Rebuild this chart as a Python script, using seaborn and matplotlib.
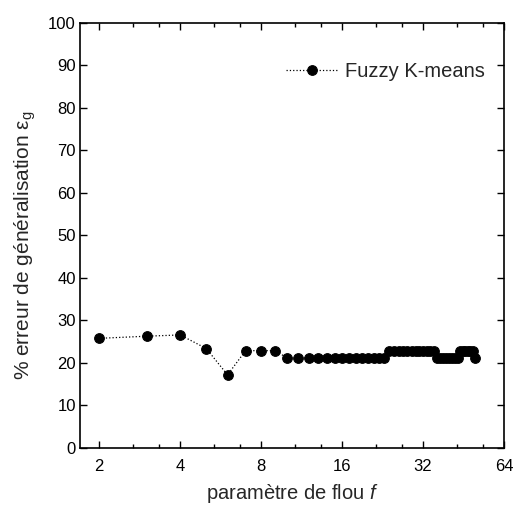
import numpy as np
import pandas as pd
import matplotlib
matplotlib.use('Agg')
import matplotlib.pyplot as plt
from matplotlib.ticker import FixedLocator, NullFormatter
import seaborn as sns

# fuzziness parameter f (integers 2..50) and generalisation error (%)
f_values = list(range(2, 51))
error_values = ([25.8, 26.3, 26.6, 23.4, 17.2, 22.9, 22.9, 22.9]   # f = 2..9
                + [21.2] * 14                                        # f = 10..23
                + [22.9] * 12                                        # f = 24..35
                + [21.2] * 8                                         # f = 36..43
                + [22.9] * 6                                         # f = 44..49
                + [21.2])                                            # f = 50
x_ticks = [2, 4, 8, 16, 32, 64]
y_ticks = list(range(0, 101, 10))

df = pd.DataFrame({'f': f_values, 'err': error_values})

sns.set_style('ticks')
plt.rcParams['font.family'] = ['Liberation Sans', 'DejaVu Sans']
plt.rcParams['mathtext.fontset'] = 'custom'
plt.rcParams['mathtext.rm'] = 'Liberation Sans'
plt.rcParams['mathtext.it'] = 'Liberation Sans:italic'

fig = plt.figure(figsize=(5.14, 5.05), dpi=100)
ax = fig.add_axes([0.1556, 0.1129, 0.825, 0.8416])

sns.lineplot(data=df, x='f', y='err', ax=ax, color='black', linestyle=':',
             linewidth=0.9, marker='o', markersize=7, markeredgecolor='black',
             label='Fuzzy K-means')

ax.set_xscale('log', base=2)
ax.set_xlim(1.696, 64)
ax.set_ylim(0, 100)
ax.xaxis.set_major_locator(FixedLocator(x_ticks))
ax.set_xticklabels([str(t) for t in x_ticks])
minor = [2 ** k * m for k in range(0, 7) for m in (4 / 3, 5 / 3)]
ax.xaxis.set_minor_locator(FixedLocator(minor))
ax.xaxis.set_minor_formatter(NullFormatter())
ax.set_yticks(y_ticks)

ax.tick_params(which='both', direction='in', top=True, right=True,
               labelsize=12, colors='black', width=1)
ax.tick_params(which='major', length=5)
ax.tick_params(axis='x', which='major', pad=8)
ax.tick_params(axis='y', which='major', pad=3)
ax.tick_params(which='minor', length=3)
for s in ax.spines.values():
    s.set_linewidth(1.2)
    s.set_color('black')

ax.set_xlabel('paramètre de flou $\\mathit{f}$', fontsize=14.5, labelpad=6)
ax.set_ylabel('% erreur de généralisation $\\mathrm{\\epsilon_g}$', fontsize=15, labelpad=7)
ax.yaxis.label.set_y(0.476)

ax.legend(loc='upper right', bbox_to_anchor=(0.974, 0.927), borderaxespad=0,
          frameon=False, fontsize=14.5, handlelength=2.6, handletextpad=0.35)

fig.savefig('out.png', dpi=100)
